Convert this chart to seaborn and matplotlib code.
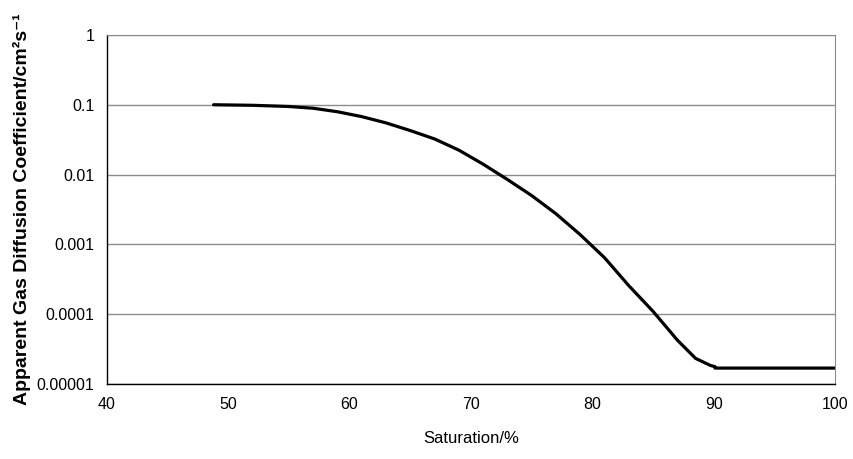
import matplotlib
matplotlib.use("Agg")
import matplotlib.pyplot as plt
import seaborn as sns
import pandas as pd

saturation = [48.8, 52, 55, 57, 59, 61, 63, 65, 67, 69, 71, 73, 75, 77, 79,
              81, 83, 85, 87, 88.5, 89.7, 90.1, 90.1, 100.3]
diffusion = [0.1, 0.0982, 0.0944, 0.0891, 0.0794, 0.0676, 0.0550, 0.0427,
             0.0324, 0.0224, 0.0141, 0.00851, 0.00501, 0.00275, 0.00138,
             0.000646, 0.000257, 0.000110, 4.27e-5, 2.34e-5, 1.86e-5,
             1.78e-5, 1.70e-5, 1.70e-5]
y_ticks = [1e-5, 1e-4, 1e-3, 1e-2, 1e-1, 1]
y_tick_labels = ["0.00001", "0.0001", "0.001", "0.01", "0.1", "1"]
x_ticks = [40, 50, 60, 70, 80, 90, 100]

sns.set_style("white")
plt.rcParams['font.family'] = ['Liberation Sans', 'DejaVu Sans']
plt.rcParams['mathtext.fontset'] = 'custom'
plt.rcParams['mathtext.rm'] = 'Liberation Sans'
plt.rcParams['mathtext.bf'] = 'Liberation Sans:bold'
plt.rcParams['axes.unicode_minus'] = False
plt.rcParams['text.color'] = 'black'
plt.rcParams['axes.labelcolor'] = 'black'
plt.rcParams['xtick.color'] = 'black'
plt.rcParams['ytick.color'] = 'black'

df = pd.DataFrame({"Saturation": saturation, "D": diffusion})

fig = plt.figure(figsize=(8.54, 4.59), dpi=100)
ax = fig.add_axes([0.125, 0.163, 0.853, 0.761])

sns.lineplot(data=df, x="Saturation", y="D", sort=False, estimator=None,
             color="black", linewidth=2.3, ax=ax)

ax.set_yscale("log")
ax.set_ylim(1e-5, 1)
ax.set_xlim(40, 100)
ax.set_yticks(y_ticks)
ax.set_yticklabels(y_tick_labels)
ax.minorticks_off()
ax.set_xticks(x_ticks)
ax.set_xticklabels([str(v) for v in x_ticks])

ax.grid(axis="y", color="#8c8c8c", linewidth=1.0)
ax.grid(axis="x", visible=False)
ax.set_axisbelow(True)

for side in ["left", "bottom"]:
    ax.spines[side].set_color("black")
    ax.spines[side].set_linewidth(1.0)
    ax.spines[side].set_visible(True)
ax.spines["top"].set_visible(True)
ax.spines["top"].set_color("#8c8c8c")
ax.spines["right"].set_visible(True)
ax.spines["right"].set_color("#8c8c8c")

ax.tick_params(axis="both", which="major", direction="out", length=5,
               width=1.0, color="black", labelcolor="black", labelsize=11.5, pad=4)

ax.set_xlabel("Saturation/%", fontsize=12, labelpad=14, color="black")
ax.set_ylabel("Apparent Gas Diffusion Coefficient/cm\u00b2s\u207b\u00b9",
              fontsize=14, fontweight="bold", labelpad=4, color="black",
              family=['Liberation Sans', 'DejaVu Sans'])

fig.savefig("out.png", dpi=100)
